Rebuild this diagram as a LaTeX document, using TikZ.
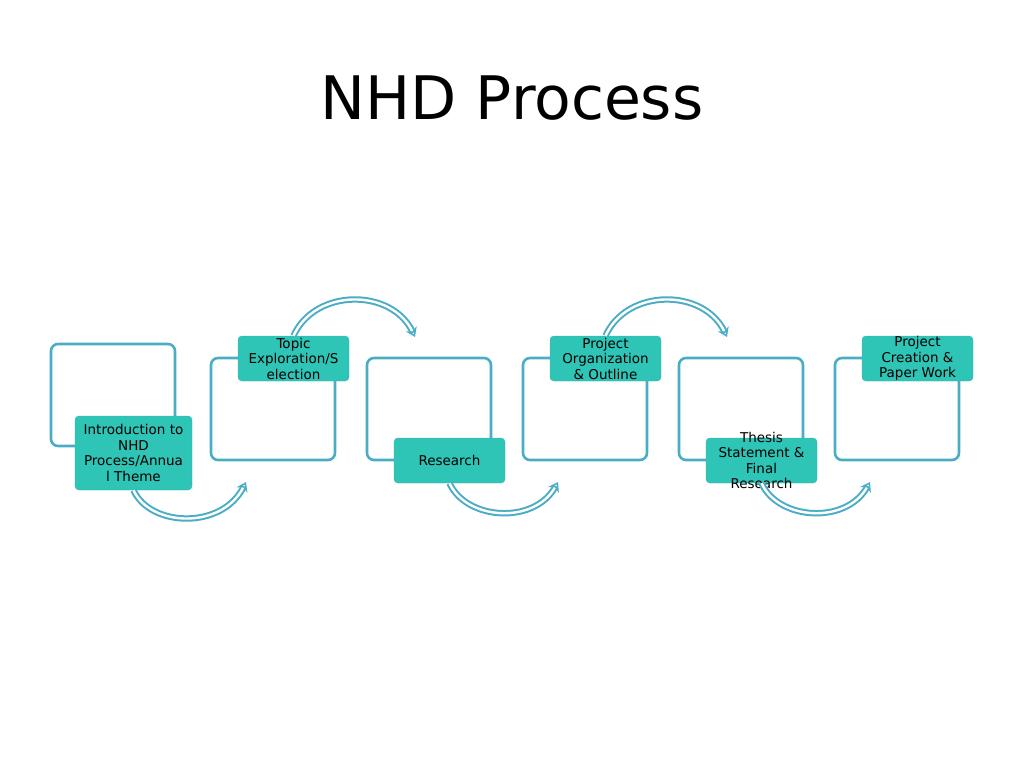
\documentclass[tikz,border=0pt]{standalone}
\usepackage{fontspec}
\setmainfont{DejaVu Sans}
\usetikzlibrary{arrows.meta}
\definecolor{frame}{HTML}{4BACC6}
\definecolor{lab}{HTML}{2EC4B6}
\definecolor{labb}{HTML}{3AAFB0}
\tikzset{
 frm/.style={draw=frame,line width=2.6pt,rounded corners=7pt,fill=white},
 lbl/.style={draw=labb,fill=lab,rounded corners=4pt,align=center,font=\fontsize{13.5}{15.5}\selectfont,inner sep=0pt,minimum width=111,minimum height=45},
 arr/.style={draw=frame,line width=2pt,double=white,double distance=2.4pt,-{Stealth[open,length=9pt,width=12pt]}}
}
\begin{document}
\begin{tikzpicture}[x=1pt,y=-1pt]
\useasboundingbox (0,0) rectangle (1024,768);
\node (title) at (512,98) {\fontsize{60}{66}\selectfont NHD Process};
\foreach \n/\x/\y in {1/51/344,2/211/358,3/367/358,4/523/358,5/679/358,6/835/358}
  \draw[frm] (\x,\y) rectangle ++(124,102) coordinate (f\n);
\node[lbl,minimum width=117,minimum height=74] (l1) at (133.5,453) {Introduction to\\NHD\\Process/Annua\\l Theme};
\node[lbl] (l2) at (293.5,358.5) {Topic\\Exploration/S\\election};
\node[lbl] (l3) at (449.5,460.5) {Research};
\node[lbl] (l4) at (605.5,358.5) {Project\\Organization\\\& Outline};
\node[lbl] (l5) at (761.5,460.5) {};
\node[align=center,font=\fontsize{13.5}{15.5}\selectfont] (t5) at (761.5,460.5) {Thesis\\Statement \&\\Final\\Research};
\node[lbl] (l6) at (917.5,358.5) {Project\\Creation \&\\Paper Work};
\coordinate (b1) at (246,482); \coordinate (b3) at (558,482); \coordinate (b5) at (870,482);
\coordinate (a2) at (415,337); \coordinate (a4) at (727,337);
\draw[arr] (l1.south) .. controls (150,527) and (222,530) .. (b1);
\draw[arr] (l3.south) .. controls (466,520) and (534,525) .. (b3);
\draw[arr] (l5.south) .. controls (778,520) and (846,525) .. (b5);
\draw[arr] (l2.north) .. controls (315,288) and (392,288) .. (a2);
\draw[arr] (l4.north) .. controls (627,288) and (704,288) .. (a4);
\end{tikzpicture}
\end{document}
